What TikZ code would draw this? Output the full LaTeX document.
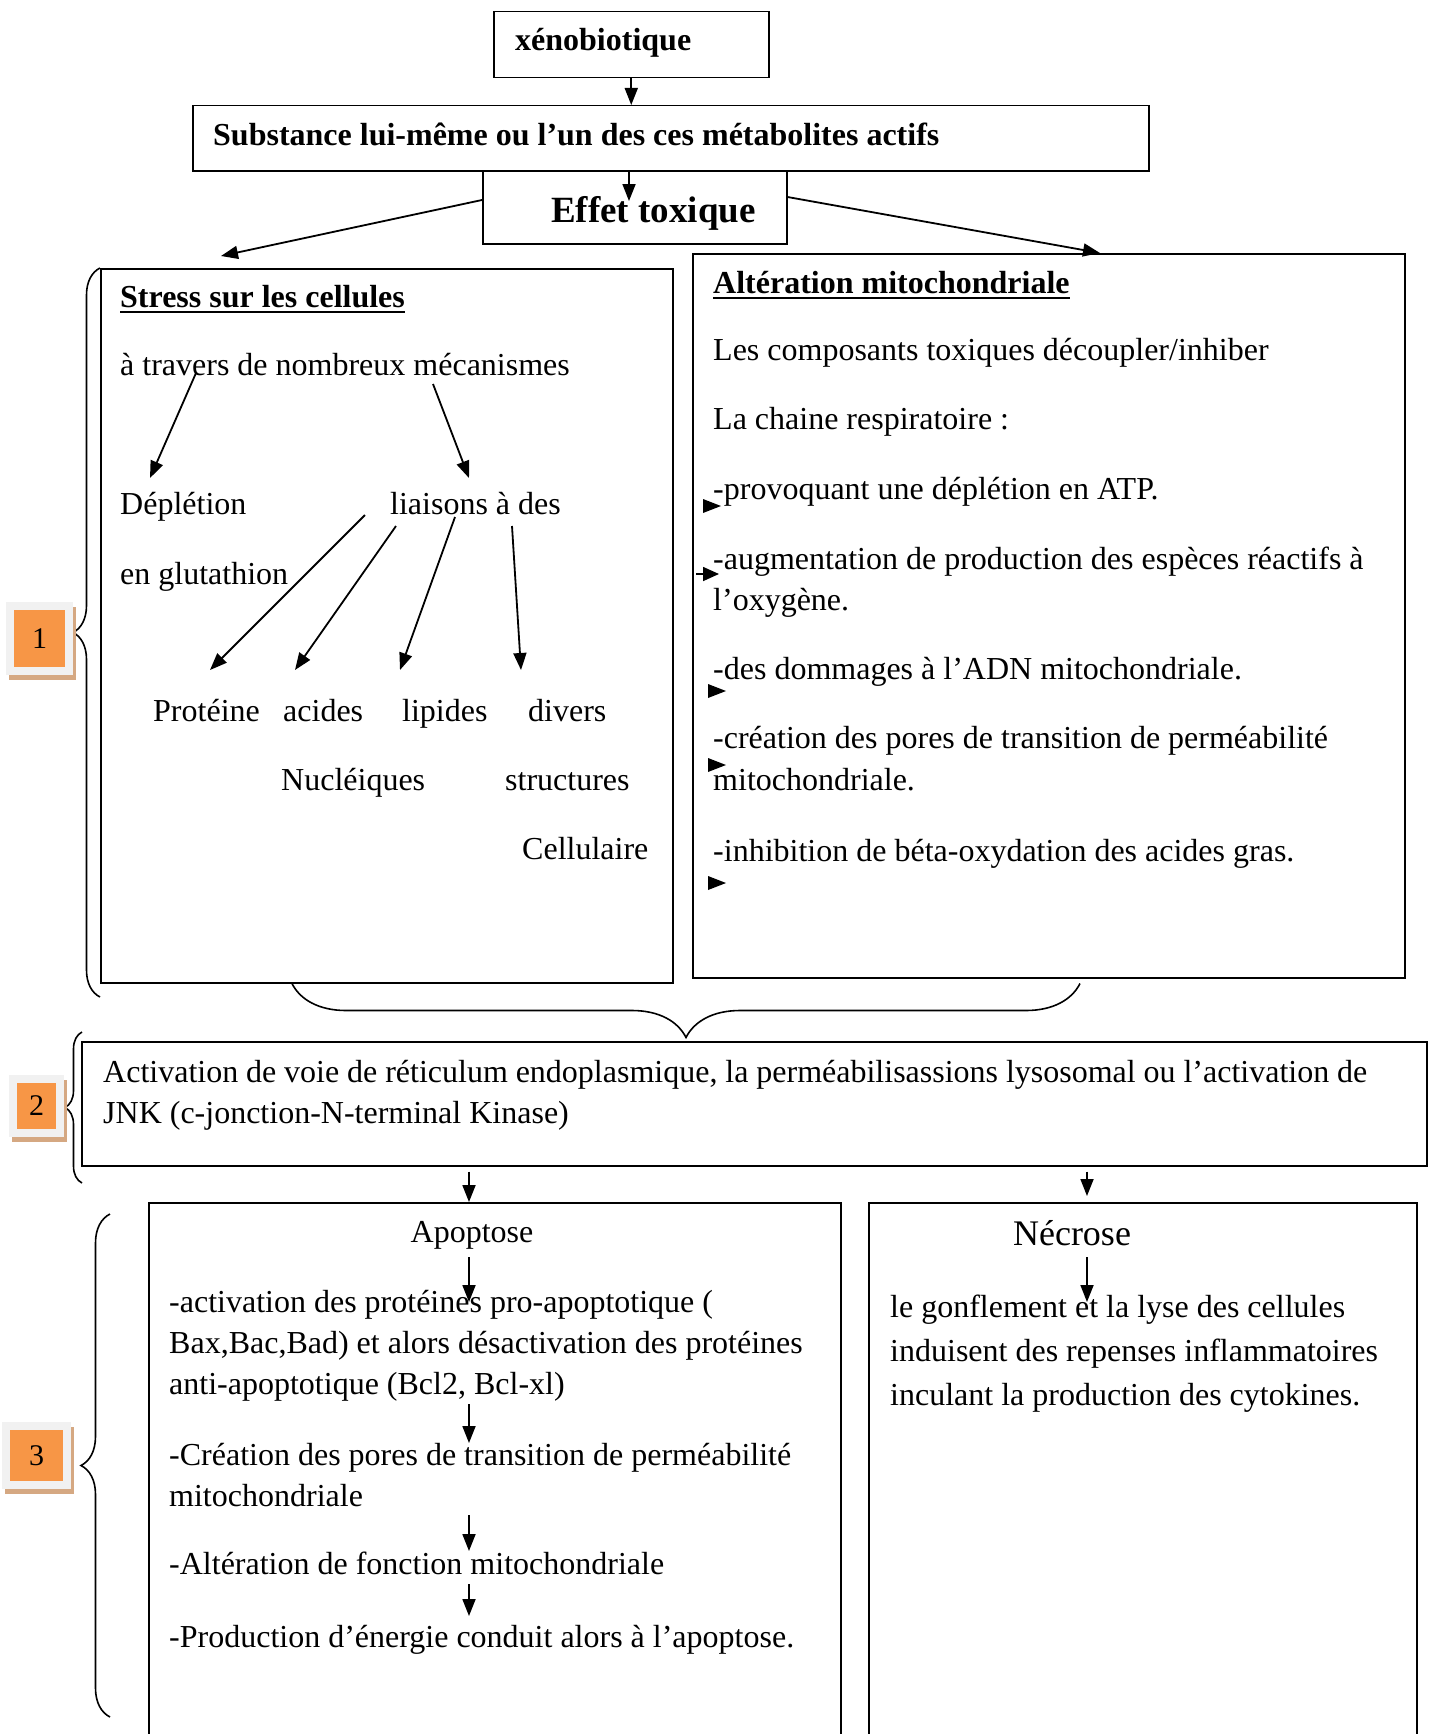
\documentclass[tikz,border=0pt]{standalone}
\usepackage{fontspec}
\setmainfont{Liberation Serif}
\usepackage{tikz}
\usetikzlibrary{arrows.meta, decorations.pathreplacing, calc}

\definecolor{numorange}{RGB}{247,150,70}
\definecolor{numgrey}{RGB}{241,241,241}
\definecolor{numshadow}{RGB}{213,168,130}

\tikzset{
  box/.style={draw, line width=1.5pt, inner sep=0pt, anchor=north west},
  txt/.style={inner sep=0pt, anchor=base west, font=\fontsize{32}{41}\selectfont},
  hd/.style={inner sep=0pt, anchor=base west, font=\fontsize{32}{41}\selectfont\bfseries},
  arr/.style={-{Triangle[length=17pt,width=13pt]}, line width=1.8pt},
  brc/.style={decorate, decoration={brace, amplitude=#1}, line width=1.6pt},
  numbox/.style={fill=numorange, draw=numgrey, line width=8pt, inner sep=0pt,
    font=\fontsize{30}{36}\selectfont,
    preaction={fill=numshadow, draw=numshadow, transform canvas={shift={(3pt,-5pt)}}}},
}

\begin{document}
\begin{tikzpicture}[x=1pt, y=-1pt]
    \useasboundingbox (0,0) rectangle (1434,1734);

    % Top chain
    \node[box, minimum width=275, minimum height=66] (xeno) at (493,11) {};
    \node[box, minimum width=956, minimum height=65] (subst) at (192,105) {};
    \node[box, minimum width=304, minimum height=73] (effet) at (482,170) {};
    \node[hd] (xenot) at (515,51) {xénobiotique};
    \node[hd] (substt) at (213,146) {Substance lui-même ou l’un des ces métabolites actifs};
    \node[inner sep=0pt, anchor=base west, font=\fontsize{37}{44}\selectfont\bfseries] (effett) at (551,222) {Effet toxique};

    % The two branches
    \node[box, minimum width=572, minimum height=714] (stress) at (100,268) {};
    \node[box, minimum width=712, minimum height=724] (alter) at (692,253) {};

    \draw[arr] (xeno.south) -- (xeno.south |- subst.north);
    \draw[arr] ($(effet.north west)+(147,0)$) -- ($(effet.north west)+(147,31)$);
    \draw[arr] ($(effet.north west)+(0,30)$) -- ($(stress.north west)+(121,-12)$);
    \draw[arr] ($(effet.north east)+(0,27)$) -- ($(alter.north west)+(408,0)$);

    % Stress sur les cellules
    \node[hd] (hdstress) at (120,307) {Stress sur les cellules};
    \draw[line width=2.4pt] ($(hdstress.base west)+(0,5)$) -- ($(hdstress.base east)+(0,5)$);
    \node[txt] (meca) at (120,375) {à travers de nombreux mécanismes};
    \node[txt] (deplet) at (120,514) {Déplétion};
    \node[txt] (gluta) at (120,584) {en glutathion};
    \node[txt] (liais) at (390,514) {liaisons à des};
    \node[txt] (prot) at (153,721) {Protéine};
    \node[txt] (acid) at (283,721) {acides};
    \node[txt] (lipid) at (402,721) {lipides};
    \node[txt] (divers) at (528,721) {divers};
    \node[txt] (nucl) at (281,790) {Nucléiques};
    \node[txt] (struct) at (505,790) {structures};
    \node[txt] (cellu) at (522,859) {Cellulaire};

    \draw[arr] ($(meca.base west)+(76,-2)$) -- ($(deplet.base west)+(30,-36)$);
    \draw[arr] ($(meca.base west)+(313,9)$) -- ($(liais.base west)+(79,-36)$);
    \draw[arr] ($(liais.base west)+(-25,1)$) -- ($(prot.base west)+(57,-51)$);
    \draw[arr] ($(liais.base west)+(6,12)$) -- ($(acid.base west)+(12,-51)$);
    \draw[arr] ($(liais.base west)+(65,3)$) -- ($(lipid.base west)+(-2,-51)$);
    \draw[arr] ($(liais.base west)+(122,12)$) -- ($(divers.base west)+(-7,-51)$);

    % Alteration mitochondriale
    \node[hd] (hdalt) at (713,293) {Altération mitochondriale};
    \draw[line width=2.4pt] ($(hdalt.base west)+(0,5)$) -- ($(hdalt.base east)+(0,5)$);
    \node[txt] (al1) at (713,360) {Les composants toxiques découpler/inhiber};
    \node[txt] (al2) at (713,429) {La chaine respiratoire :};
    \node[txt] (al3) at (713,499) {-provoquant une déplétion en ATP.};
    \node[txt] (al4) at (713,569) {-augmentation de production des espèces réactifs à};
    \node[txt] (al5) at (713,610) {l’oxygène.};
    \node[txt] (al6) at (713,679) {-des dommages à l’ADN mitochondriale.};
    \node[txt] (al7) at (713,748) {-création des pores de transition de perméabilité};
    \node[txt] (al8) at (713,790) {mitochondriale.};
    \node[txt] (al9) at (713,861) {-inhibition de béta-oxydation des acides gras.};

    % little bullets
    \foreach \mx/\my in {712/506, 717/691, 717/765, 717/883} {
        \fill ({\mx-9},{\my-7}) -- ({\mx+9},\my) -- ({\mx-9},{\my+7}) -- cycle;
    }
    \draw[-{Triangle[length=16pt,width=14pt]}, line width=1.6pt] (696,574) -- (719,574);

    % Braces
    \draw[brc=27pt] (100,997) -- (100,268);
    \draw[brc=54pt] ($(stress.south west)+(980,0)$) -- ($(stress.south west)+(192,0)$);
    \draw[brc=17pt] (82,1183) -- (82,1032);
    \draw[brc=29pt] (110,1717) -- (110,1214);

    \node[numbox, minimum width=59, minimum height=65] (n1) at (39.5,638.5) {1};
    \node[numbox, minimum width=47, minimum height=54] (n2) at (36.5,1106) {2};
    \node[numbox, minimum width=61, minimum height=59] (n3) at (36.5,1455.5) {3};

    % Activation
    \node[box, minimum width=1345, minimum height=124] (act) at (81,1041) {};
    \node[txt] (act1) at (103,1082) {\makebox[1264pt][s]{Activation de voie de réticulum endoplasmique, la perméabilisassions lysosomal ou l’activation de}};
    \node[txt] (act2) at (103,1123) {JNK (c-jonction-N-terminal Kinase)};

    % Apoptose / Necrose
    \node[box, minimum width=692, minimum height=560] (apo) at (148,1202) {};
    \node[box, minimum width=548, minimum height=560] (nec) at (868,1202) {};
    \draw[arr] ($(act.south west)+(388,5)$) -- ($(apo.north west)+(321,0)$);
    \draw[arr] ($(act.south west)+(1006,5)$) -- ($(nec.north west)+(219,-6)$);

    \node[txt, anchor=base] (apt) at (472,1242) {Apoptose};
    \node[txt] (ap1) at (169,1312) {-activation des protéines pro-apoptotique (};
    \node[txt] (ap2) at (169,1353) {Bax,Bac,Bad) et alors désactivation des protéines};
    \node[txt] (ap3) at (169,1394) {anti-apoptotique (Bcl2, Bcl-xl)};
    \node[txt] (ap4) at (169,1465) {-Création des pores de transition de perméabilité};
    \node[txt] (ap5) at (169,1506) {mitochondriale};
    \node[txt] (ap6) at (169,1574) {-Altération de fonction mitochondriale};
    \node[txt] (ap7) at (169,1647) {-Production d’énergie conduit alors à l’apoptose.};

    \draw[arr] ($(apt.base)+(-3,15)$) -- ($(ap1.base west)+(300,-10)$);
    \draw[arr] ($(ap3.base west)+(300,10)$) -- ($(ap4.base west)+(300,-22)$);
    \draw[arr] ($(ap5.base west)+(300,9)$) -- ($(ap6.base west)+(300,-23)$);
    \draw[arr] ($(ap6.base west)+(300,10)$) -- ($(ap7.base west)+(300,-31)$);

    \node[inner sep=0pt, anchor=base, font=\fontsize{36}{44}\selectfont] (nect) at (1072,1245) {Nécrose};
    \node[txt] (ne1) at (890,1317) {le gonflement et la lyse des cellules};
    \node[txt] (ne2) at (890,1361) {induisent des repenses inflammatoires};
    \node[txt] (ne3) at (890,1405) {inculant la production des cytokines.};
    \draw[arr] ($(nect.base)+(15,12)$) -- ($(ne1.base west)+(197,-15)$);
\end{tikzpicture}
\end{document}
